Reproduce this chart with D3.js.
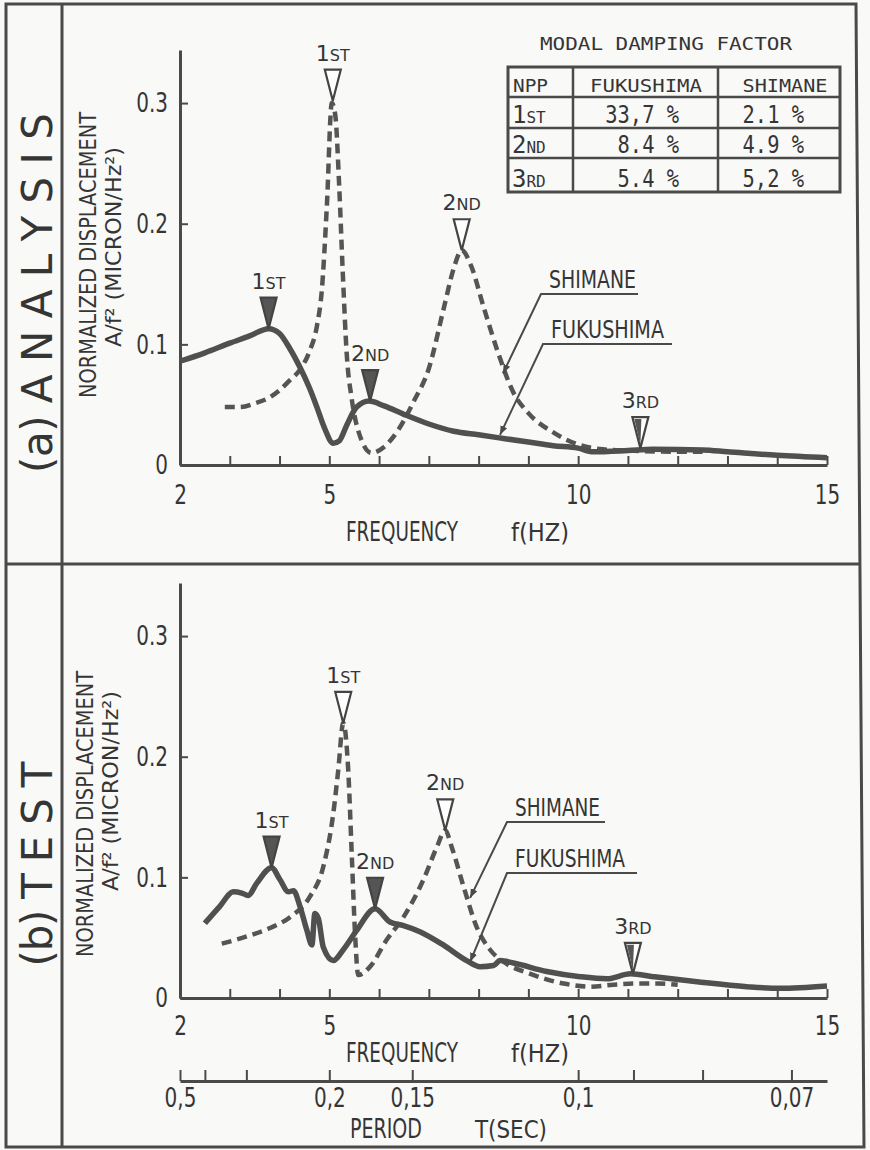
<!DOCTYPE html>
<html>
<head>
<meta charset="utf-8">
<script src="https://cdn.jsdelivr.net/npm/d3@7"></script>
<style>
  body { margin: 0; background: #f9f9f7; }
  svg text { fill: #353535; font-family: "DejaVu Sans", sans-serif; }
  .mono { font-family: "DejaVu Sans Mono", monospace; }
</style>
</head>
<body>
<script>
// ---- data ----
// (a) analysis
var fukuA_f = [2, 2.5, 3, 3.4, 3.78, 4.0, 4.2, 4.41, 4.6, 4.75, 4.9, 5.08, 5.2, 5.35, 5.55, 5.8, 6.1, 6.5, 7.0, 7.5, 8.0, 8.5, 9.0, 9.5, 10.0, 10.3, 11.0, 11.5, 12.5, 13.0, 14.0, 15.0];
var fukuA_v = [0.086, 0.093, 0.101, 0.107, 0.113, 0.109, 0.097, 0.081, 0.064, 0.048, 0.031, 0.018, 0.020, 0.033, 0.048, 0.053, 0.049, 0.042, 0.034, 0.028, 0.025, 0.022, 0.019, 0.016, 0.014, 0.011, 0.012, 0.013, 0.0125, 0.011, 0.008, 0.006];
var shimA_f = [2.9, 3.2, 3.5, 3.8, 4.0, 4.2, 4.41, 4.6, 4.75, 4.85, 4.95, 5.05, 5.12, 5.2, 5.27, 5.35, 5.45, 5.6, 5.85, 6.1, 6.4, 6.7, 7.0, 7.3, 7.5, 7.66, 7.85, 8.1, 8.4, 8.7, 9.0, 9.5, 10.0, 10.5, 11.0, 12.0, 12.5];
var shimA_v = [0.048, 0.048, 0.051, 0.056, 0.062, 0.070, 0.079, 0.094, 0.115, 0.145, 0.214, 0.300, 0.290, 0.230, 0.160, 0.092, 0.055, 0.026, 0.010, 0.015, 0.030, 0.053, 0.080, 0.130, 0.163, 0.178, 0.165, 0.131, 0.092, 0.060, 0.043, 0.027, 0.017, 0.013, 0.012, 0.011, 0.011];
// (b) test
var fukuB_f = [2.5, 2.8, 3.07, 3.24, 3.37, 3.54, 3.84, 4.01, 4.18, 4.28, 4.41, 4.55, 4.65, 4.71, 4.78, 4.88, 5.08, 5.28, 5.55, 5.92, 6.22, 6.49, 6.82, 7.29, 7.76, 8.03, 8.3, 8.43, 8.7, 9.37, 10.04, 10.58, 11.05, 11.51, 12.39, 13.39, 14.06, 15];
var fukuB_v = [0.062, 0.076, 0.088, 0.087, 0.085, 0.095, 0.108, 0.098, 0.088, 0.089, 0.076, 0.056, 0.044, 0.070, 0.066, 0.042, 0.031, 0.040, 0.056, 0.074, 0.063, 0.060, 0.055, 0.044, 0.031, 0.026, 0.027, 0.031, 0.029, 0.022, 0.0177, 0.016, 0.020, 0.0177, 0.0135, 0.0094, 0.008, 0.0099];
var shimB_f = [2.84, 3.34, 3.81, 4.21, 4.61, 4.88, 5.08, 5.18, 5.28, 5.38, 5.45, 5.52, 5.58, 5.82, 6.15, 6.49, 6.89, 7.16, 7.33, 7.46, 7.70, 7.96, 8.23, 8.5, 9.04, 9.71, 10.24, 10.71, 11.18, 11.6, 12.0];
var shimB_v = [0.045, 0.051, 0.058, 0.067, 0.084, 0.109, 0.153, 0.189, 0.228, 0.189, 0.120, 0.051, 0.019, 0.026, 0.048, 0.067, 0.098, 0.125, 0.139, 0.125, 0.092, 0.059, 0.040, 0.030, 0.020, 0.012, 0.0094, 0.011, 0.012, 0.012, 0.011];

// peak markers: frequency, value, ordinal, kind
var markA_f = [3.78, 5.82, 11.25, 5.07, 7.66];
var markA_v = [0.113, 0.053, 0.014, 0.302, 0.178];
var markB_f = [3.84, 5.92, 11.1, 5.28, 7.33];
var markB_v = [0.108, 0.074, 0.020, 0.228, 0.139];
var markOrd = ["1ST", "2ND", "3RD", "1ST", "2ND"];
var markKind = ["fill", "fill", "half", "open", "open"];

var freqTicks = d3.range(2, 16);
var freqLabels = [2, 5, 10, 15];
var yTicks = [0, 0.1, 0.2, 0.3];
var periodTicks = [0.5, 0.4, 0.3, 0.2, 0.15, 0.1, 0.09, 0.08, 0.07];
var periodLabels = {0.5: "0,5", 0.2: "0,2", 0.15: "0,15", 0.1: "0,1", 0.07: "0,07"};

var tableTitle = "MODAL DAMPING FACTOR";
var tableHead = ["NPP", "FUKUSHIMA", "SHIMANE"];
var tableModes = ["1ST", "2ND", "3RD"];
var dampFuku = ["33,7 %", "8.4 %", "5.4 %"];
var dampShim = ["2.1 %", "4.9 %", "5,2 %"];

// ---- drawing ----
var ink = "#4a4a4a";
var svg = d3.select("body").append("svg").attr("width", 870).attr("height", 1150);

function squeeze(sel, k) {
  sel.each(function() {
    var L = this.getComputedTextLength();
    d3.select(this).attr("textLength", L * k).attr("lengthAdjust", "spacingAndGlyphs");
  });
}

// frame
svg.append("path")
  .attr("d", "M6,4 L856,4 L864,1147 L6,1147 Z M62,4 L62,1147 M6,564 L860,564")
  .attr("fill", "none").attr("stroke", ink).attr("stroke-width", 3);

svg.append("defs").append("marker")
  .attr("id", "arr").attr("viewBox", "0 0 10 10").attr("refX", 10).attr("refY", 5)
  .attr("markerWidth", 9).attr("markerHeight", 9).attr("markerUnits", "userSpaceOnUse")
  .attr("orient", "auto")
  .append("path").attr("d", "M0,1 L10,5 L0,9 Z").attr("fill", ink);

var x = d3.scaleLinear().domain([2, 15]).range([180, 827]);

function ordinal(sel, s, big, small) {
  var t = sel.append("text");
  t.append("tspan").attr("font-size", big).text(s[0]);
  t.append("tspan").attr("font-size", small).text(s.slice(1));
  return t;
}

function panel(opt) {
  var y = d3.scaleLinear().domain([0, 0.344]).range([opt.y0, opt.top]);
  var g = svg.append("g");

  // x axis
  var xa = g.append("g").attr("transform", "translate(0," + opt.y0 + ")")
    .call(d3.axisBottom(x).tickValues(freqTicks).tickSizeInner(-9).tickSizeOuter(0)
      .tickPadding(opt.xPad).tickFormat(function(d) { return freqLabels.indexOf(d) >= 0 ? d : ""; }));
  // y axis
  var ya = g.append("g").attr("transform", "translate(180,0)")
    .call(d3.axisLeft(y).tickValues(yTicks).tickSizeInner(-8).tickSizeOuter(0).tickPadding(12)
      .tickFormat(function(d) { return d === 0 ? "0" : d3.format(".1f")(d); }));
  [xa, ya].forEach(function(a) {
    a.select(".domain").attr("stroke", ink).attr("stroke-width", 3);
    a.selectAll(".tick line").attr("stroke", ink).attr("stroke-width", 2);
    a.selectAll("text").attr("font-size", 27).attr("fill", "#353535").call(squeeze, 0.74);
  });

  // axis titles
  g.append("text").attr("x", 402).attr("y", opt.xTitle).attr("text-anchor", "middle")
    .attr("font-size", 27).text("FREQUENCY").attr("textLength", 112).attr("lengthAdjust", "spacingAndGlyphs");
  g.append("text").attr("x", 540).attr("y", opt.xTitle).attr("text-anchor", "middle")
    .attr("font-size", 25).text("f(HZ)").attr("textLength", 58).attr("lengthAdjust", "spacingAndGlyphs");

  g.append("text").attr("transform", "translate(" + opt.yl1[0] + "," + opt.yl1[1] + ") rotate(-90)")
    .attr("text-anchor", "middle").attr("font-size", 23).text("NORMALIZED DISPLACEMENT")
    .attr("textLength", 286).attr("lengthAdjust", "spacingAndGlyphs");
  g.append("text").attr("transform", "translate(" + opt.yl2[0] + "," + opt.yl2[1] + ") rotate(-90)")
    .attr("text-anchor", "middle").attr("font-size", 21).text("A/f\u00B2 (MICRON/Hz\u00B2)")
    .attr("textLength", 200).attr("lengthAdjust", "spacingAndGlyphs");

  // side title
  g.append("text").attr("transform", "translate(52," + opt.side[1] + ") rotate(-90)")
    .attr("text-anchor", "middle").attr("font-size", 42).attr("fill", "#444")
    .text(opt.side[0]).attr("textLength", opt.side[2]).attr("lengthAdjust", "spacing");

  var line = d3.line().x(function(d) { return x(d[0]); }).y(function(d) { return y(d[1]); })
    .curve(d3.curveMonotoneX);

  g.append("path").datum(d3.zip(opt.shimF, opt.shimV)).attr("d", line)
    .attr("fill", "none").attr("stroke", "#555").attr("stroke-width", 4.5)
    .attr("stroke-dasharray", "10,6");
  g.append("path").datum(d3.zip(opt.fukuF, opt.fukuV)).attr("d", line)
    .attr("fill", "none").attr("stroke", "#505050").attr("stroke-width", 5.5)
    .attr("stroke-linejoin", "round");

  // peak markers
  opt.markF.forEach(function(f, i) {
    var px = x(f), py = y(opt.markV[i]), h = 31, w = 8;
    var tri = "M" + (px - w) + "," + (py - h) + " L" + (px + w) + "," + (py - h) + " L" + px + "," + py + " Z";
    var k = markKind[i];
    g.append("path").attr("d", tri)
      .attr("fill", k === "fill" ? "#555" : "#fff").attr("stroke", "#444").attr("stroke-width", 2.2);
    if (k === "half") {
      g.append("path").attr("d", "M" + (px - w + 2) + "," + (py - h + 2) + " L" + (px + 1) + "," + (py - h + 2) + " L" + px + "," + (py - 3) + " Z")
        .attr("fill", "#555");
    }
    ordinal(g, markOrd[i], 22, 16).attr("x", px).attr("y", py - h - 9).attr("text-anchor", "middle");
  });

  // callouts
  opt.callouts.forEach(function(c) {
    g.append("text").attr("x", c.x0 + 8).attr("y", c.uy - 6).attr("font-size", 25)
      .text(c.name).attr("textLength", c.tl).attr("lengthAdjust", "spacingAndGlyphs");
    g.append("path").attr("d", "M" + c.x1 + "," + c.uy + " L" + c.x0 + "," + c.uy + " L" + x(c.f) + "," + y(c.v))
      .attr("fill", "none").attr("stroke", ink).attr("stroke-width", 2).attr("marker-end", "url(#arr)");
  });
  return {g: g, y: y};
}

var pa = panel({
  y0: 465, top: 50, xPad: 20, xTitle: 541,
  yl1: [96, 255], yl2: [121, 247], side: ["(a) A N A L Y S I S", 293, 360],
  fukuF: fukuA_f, fukuV: fukuA_v, shimF: shimA_f, shimV: shimA_v,
  markF: markA_f, markV: markA_v,
  callouts: [
    {name: "SHIMANE", x0: 541, x1: 638, uy: 294, tl: 87, f: 8.49, v: 0.076},
    {name: "FUKUSHIMA", x0: 543, x1: 672, uy: 344, tl: 113, f: 8.43, v: 0.025}
  ]
});

var pb = panel({
  y0: 998, top: 583, xPad: 18, xTitle: 1062,
  yl1: [93, 814], yl2: [118, 791], side: ["(b) T E S T", 864, 205],
  fukuF: fukuB_f, fukuV: fukuB_v, shimF: shimB_f, shimV: shimB_v,
  markF: markB_f, markV: markB_v,
  callouts: [
    {name: "SHIMANE", x0: 507, x1: 605, uy: 822, tl: 85, f: 7.83, v: 0.083},
    {name: "FUKUSHIMA", x0: 507, x1: 637, uy: 873, tl: 110, f: 7.83, v: 0.030}
  ]
});

// period axis
var pax = svg.append("g").attr("transform", "translate(0,1081)")
  .call(d3.axisBottom(x).tickValues(periodTicks.map(function(p) { return 1 / p; }))
    .tickSizeInner(-11).tickSizeOuter(0).tickPadding(7)
    .tickFormat(function(f) { var p = Math.round(100 / f) / 100; return periodLabels[p] || ""; }));
pax.select(".domain").attr("stroke", ink).attr("stroke-width", 3);
pax.selectAll(".tick line").attr("stroke", ink).attr("stroke-width", 2);
pax.selectAll("text").attr("font-size", 27).attr("fill", "#353535").call(squeeze, 0.74);
svg.append("text").attr("x", 386).attr("y", 1138).attr("text-anchor", "middle").attr("font-size", 27)
  .text("PERIOD").attr("textLength", 72).attr("lengthAdjust", "spacingAndGlyphs");
svg.append("text").attr("x", 511).attr("y", 1138).attr("text-anchor", "middle").attr("font-size", 25)
  .text("T(SEC)").attr("textLength", 72).attr("lengthAdjust", "spacingAndGlyphs");

// damping table
var tg = svg.append("g");
var rowsY = [67, 97, 128, 158, 192];
var colsX = [508, 573, 718, 840];
tg.append("text").attr("class", "mono").attr("x", 666).attr("y", 50).attr("text-anchor", "middle")
  .attr("font-size", 18).text(tableTitle).attr("textLength", 252).attr("lengthAdjust", "spacingAndGlyphs");
tg.append("rect").attr("x", colsX[0]).attr("y", rowsY[0]).attr("width", colsX[3] - colsX[0])
  .attr("height", rowsY[4] - rowsY[0]).attr("fill", "none").attr("stroke", ink).attr("stroke-width", 3);
rowsY.slice(1, 4).forEach(function(r) {
  tg.append("line").attr("x1", colsX[0]).attr("x2", colsX[3]).attr("y1", r).attr("y2", r)
    .attr("stroke", ink).attr("stroke-width", 2.5);
});
colsX.slice(1, 3).forEach(function(c) {
  tg.append("line").attr("x1", c).attr("x2", c).attr("y1", rowsY[0]).attr("y2", rowsY[4])
    .attr("stroke", ink).attr("stroke-width", 2.5);
});
tg.append("text").attr("class", "mono").attr("x", 513).attr("y", 92).attr("font-size", 18)
  .text(tableHead[0]).attr("textLength", 35).attr("lengthAdjust", "spacingAndGlyphs");
tg.append("text").attr("class", "mono").attr("x", 646).attr("y", 92).attr("text-anchor", "middle").attr("font-size", 18)
  .text(tableHead[1]).attr("textLength", 112).attr("lengthAdjust", "spacingAndGlyphs");
tg.append("text").attr("class", "mono").attr("x", 785).attr("y", 92).attr("text-anchor", "middle").attr("font-size", 18)
  .text(tableHead[2]).attr("textLength", 85).attr("lengthAdjust", "spacingAndGlyphs");
tableModes.forEach(function(m, i) {
  var by = rowsY[i + 2] - 5;
  ordinal(tg, m, 24, 16).attr("class", "mono").attr("x", 512).attr("y", by);
  tg.append("text").attr("class", "mono").attr("x", 679).attr("y", by).attr("text-anchor", "end")
    .attr("font-size", 24).text(dampFuku[i]).call(squeeze, 0.85);
  tg.append("text").attr("class", "mono").attr("x", 804).attr("y", by).attr("text-anchor", "end")
    .attr("font-size", 24).text(dampShim[i]).call(squeeze, 0.85);
});
</script>
</body>
</html>
